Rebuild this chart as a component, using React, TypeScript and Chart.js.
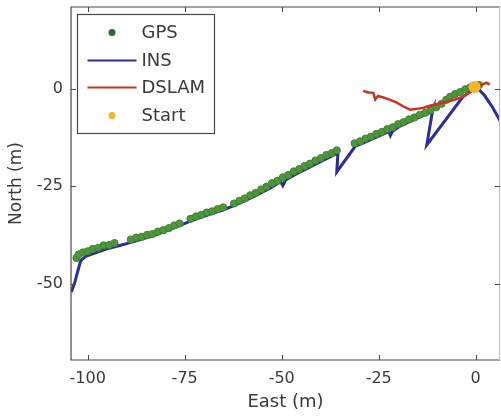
import React, { useEffect, useRef } from 'react';
import { Chart, registerables } from 'chart.js';

Chart.register(...registerables);

// ---- data (metres) ----
const gpsEast = [
  -102.9, -102.3, -101.2, -100.0, -98.7, -97.3, -95.9, -94.5, -93.1,
  -88.9, -87.5, -86.1, -84.7, -83.3, -81.9, -80.5, -79.1, -77.7,
  -76.3, -73.5, -72.1, -70.7, -69.3, -67.9, -66.5, -65.1, -62.3,
  -60.9, -59.5, -58.1, -56.7, -55.3, -53.9, -52.5, -51.1, -49.7, -48.3,
  -46.9, -45.5, -44.1, -42.7, -41.3, -39.9, -38.5, -37.1, -35.8,
  -31.2, -29.8, -28.4, -27.0, -25.6, -24.2, -22.8, -21.4, -20.0, -18.6,
  -17.2, -15.8, -14.4, -13.0, -11.6, -10.2, -8.8, -7.6,
  -6.6, -5.3, -4.0, -2.7, -1.4, -0.2, 0.9,
];
const gpsNorth = [
  -43.3, -42.4, -41.9, -41.6, -41.0, -40.7, -40.1, -40.0, -39.5,
  -38.6, -38.1, -37.9, -37.4, -37.2, -36.6, -36.2, -35.7, -35.0,
  -34.5, -33.3, -32.7, -32.3, -31.7, -31.4, -30.8, -30.4, -29.4,
  -28.7, -28.1, -27.3, -26.7, -25.8, -25.1, -24.2, -23.6, -22.7, -22.1,
  -21.2, -20.6, -19.8, -19.2, -18.4, -17.8, -17.0, -16.5, -15.8,
  -14.0, -13.5, -12.8, -12.3, -11.6, -11.1, -10.4, -9.9, -9.1, -8.6,
  -7.9, -7.4, -6.7, -6.2, -5.5, -4.8, -3.9, -2.9,
  -2.1, -1.4, -0.9, -0.2, 0.3, 0.7, 0.9,
];

const insEast = [
  -104.2, -103.3, -102.5, -101.8, -100.5, -98.0, -95.0, -92.0, -89.0, -86.0,
  -83.0, -80.0, -77.0, -74.0, -71.0, -68.0, -65.0, -62.5, -60.0, -57.0,
  -53.0, -50.3, -49.7, -49.0, -46.0, -43.0, -40.0, -37.0, -35.5, -35.8,
  -31.0, -28.0, -25.0, -22.4, -22.0, -21.5, -19.5, -17.0, -14.0, -11.5,
  -11.0, -12.6, -3.3, -1.5, -0.5, 0.3, 2.3, 4.4, 6.6,
];
const insNorth = [
  -52.0, -49.5, -46.5, -44.0, -42.9, -42.0, -41.0, -40.2, -39.4, -38.5,
  -37.6, -36.5, -35.3, -34.1, -33.0, -32.0, -31.0, -30.0, -28.9, -27.5,
  -25.5, -23.8, -24.8, -23.4, -21.7, -20.2, -18.7, -17.2, -16.4, -21.3,
  -14.7, -13.5, -12.2, -11.0, -12.0, -11.0, -9.6, -8.4, -7.1, -6.0,
  -5.0, -14.4, -2.1, -0.8, 0.5, 0.3, -1.8, -4.9, -8.8,
];

const dslamEast = [
  -29.0, -27.6, -26.4, -25.9, -25.2, -23.8, -22.0, -20.3, -18.6, -16.9,
  -15.1, -13.4, -11.8, -9.6, -7.4, -5.3, -3.3, -1.5, 0.3, 1.6, 2.8, 3.6,
];
const dslamNorth = [
  -0.6, -1.0, -1.1, -2.8, -1.9, -2.3, -2.9, -3.6, -4.6, -5.4,
  -5.2, -4.9, -4.4, -3.9, -3.4, -2.8, -2.1, -1.0, 0.3, 1.0, 1.5, 1.0,
];

const startEast = [-0.3];
const startNorth = [0.4];

const legendLabels = ['GPS', 'INS', 'DSLAM', 'Start'];
const xTitle = 'East (m)';
const yTitle = 'North (m)';

const FONT = "'DejaVu Sans', sans-serif";
const TEXT = '#3a3a3a';
const GPS_FILL = '#4e963a';
const GPS_EDGE = '#3e8434';
const INS_COLOR = '#2c2c9c';
const DSLAM_COLOR = '#d0321f';
const START_COLOR = '#f7b32b';

const toPts = (xs: number[], ys: number[]) => xs.map((x, i) => ({ x, y: ys[i] }));

const zeroPad = (s: any) => {
  s.paddingTop = 0;
  s.paddingBottom = 0;
  s.paddingLeft = 0;
  s.paddingRight = 0;
};

const framePlugin = {
  id: 'frameAndLegend',
  afterDatasetsDraw(chart: any) {
    const { ctx, chartArea } = chart;
    const { left, top, right, bottom } = chartArea;
    const xs = chart.scales.x;
    const ys = chart.scales.y;
    ctx.save();
    ctx.strokeStyle = '#474747';
    ctx.lineWidth = 1.2;
    ctx.beginPath();
    ctx.moveTo(right, top);
    ctx.lineTo(left, top);
    ctx.lineTo(left, bottom);
    ctx.lineTo(right, bottom);
    ctx.stroke();
    ctx.strokeStyle = '#c4c4c4';
    ctx.beginPath();
    ctx.moveTo(right - 0.5, top);
    ctx.lineTo(right - 0.5, bottom);
    ctx.stroke();
    // inward ticks
    ctx.strokeStyle = '#474747';
    ctx.lineWidth = 1;
    const tl = 5;
    xs.ticks.forEach((t: any) => {
      const px = Math.round(xs.getPixelForValue(t.value)) + 0.5;
      ctx.beginPath();
      ctx.moveTo(px, bottom);
      ctx.lineTo(px, bottom - tl);
      ctx.moveTo(px, top);
      ctx.lineTo(px, top + tl);
      ctx.stroke();
    });
    ys.ticks.forEach((t: any) => {
      const py = Math.round(ys.getPixelForValue(t.value)) + 0.5;
      ctx.beginPath();
      ctx.moveTo(left, py);
      ctx.lineTo(left + tl, py);
      ctx.moveTo(right, py);
      ctx.lineTo(right - tl, py);
      ctx.stroke();
    });

    // legend box
    const bx = left + 6.5;
    const by = top + 7.5;
    const bw = 137;
    const bh = 119;
    ctx.fillStyle = '#ffffff';
    ctx.fillRect(bx, by, bw, bh);
    ctx.strokeStyle = '#474747';
    ctx.lineWidth = 1.2;
    ctx.strokeRect(bx, by, bw, bh);
    const rowY = [by + 18, by + 46, by + 73, by + 101];
    const symL = bx + 10;
    const symR = bx + 59;
    const symC = (symL + symR) / 2;
    ctx.font = `18px ${FONT}`;
    ctx.textBaseline = 'middle';
    ctx.textAlign = 'left';
    legendLabels.forEach((lab, i) => {
      const yy = rowY[i];
      if (i === 0) {
        ctx.beginPath();
        ctx.arc(symC, yy, 3.5, 0, Math.PI * 2);
        ctx.fillStyle = '#2f6b30';
        ctx.fill();
      } else if (i === 3) {
        ctx.beginPath();
        ctx.arc(symC, yy, 3.5, 0, Math.PI * 2);
        ctx.fillStyle = START_COLOR;
        ctx.fill();
      } else {
        ctx.beginPath();
        ctx.moveTo(symL, yy);
        ctx.lineTo(symR, yy);
        ctx.strokeStyle = i === 1 ? INS_COLOR : DSLAM_COLOR;
        ctx.lineWidth = 2;
        ctx.stroke();
      }
      ctx.fillStyle = TEXT;
      ctx.fillText(lab, bx + 64, yy + 1);
    });
    ctx.restore();
  },
};

export default function App() {
  const ref = useRef<HTMLCanvasElement | null>(null);
  useEffect(() => {
    if (!ref.current) return;
    const chart = new Chart(ref.current, {
      type: 'scatter',
      data: {
        datasets: [
          {
            label: 'Start',
            data: toPts(startEast, startNorth),
            pointRadius: 6,
            pointBackgroundColor: START_COLOR,
            pointBorderColor: START_COLOR,
            pointBorderWidth: 0,
            order: 0,
          },
          {
            label: 'DSLAM',
            data: toPts(dslamEast, dslamNorth),
            showLine: true,
            borderColor: DSLAM_COLOR,
            borderWidth: 2.5,
            pointRadius: 0,
            order: 1,
          },
          {
            label: 'GPS',
            data: toPts(gpsEast, gpsNorth),
            pointRadius: 3.6,
            pointBackgroundColor: GPS_FILL,
            pointBorderColor: GPS_EDGE,
            pointBorderWidth: 1,
            order: 2,
          },
          {
            label: 'INS',
            data: toPts(insEast, insNorth),
            showLine: true,
            borderColor: INS_COLOR,
            borderWidth: 3,
            pointRadius: 0,
            order: 3,
          },
        ],
      },
      options: {
        responsive: false,
        animation: false,
        layout: { autoPadding: false, padding: { top: 7, right: 1, left: 0, bottom: 0 } },
        plugins: {
          legend: { display: false },
          tooltip: { enabled: false },
        },
        scales: {
          x: {
            type: 'linear',
            min: -104.3,
            max: 6.26,
            grid: { display: false, drawTicks: false },
            border: { display: false },
            ticks: {
              stepSize: 25,
              includeBounds: false,
              color: TEXT,
              font: { family: FONT, size: 16 },
              padding: 9,
              maxRotation: 0,
            },
            title: {
              display: true,
              text: xTitle,
              color: TEXT,
              font: { family: FONT, size: 18 },
              padding: { top: 0, bottom: 5 },
            },
            afterFit: (s: any) => {
              s.height = 58;
              zeroPad(s);
            },
          },
          y: {
            type: 'linear',
            min: -69.4,
            max: 20.84,
            grid: { display: false, drawTicks: false },
            border: { display: false },
            ticks: {
              stepSize: 25,
              includeBounds: false,
              color: TEXT,
              font: { family: FONT, size: 16 },
              padding: 8,
            },
            title: {
              display: true,
              text: yTitle,
              color: TEXT,
              font: { family: FONT, size: 17 },
              padding: { top: 6, bottom: 0 },
            },
            afterFit: (s: any) => {
              s.width = 71;
              zeroPad(s);
            },
          },
        },
      },
      plugins: [framePlugin],
    } as any);
    return () => chart.destroy();
  }, []);
  return (
    <div style={{ position: 'absolute', left: 0, top: 0, width: 501, height: 418, background: '#fff' }}>
      <canvas ref={ref} width={501} height={418} style={{ display: 'block' }} />
    </div>
  );
}
